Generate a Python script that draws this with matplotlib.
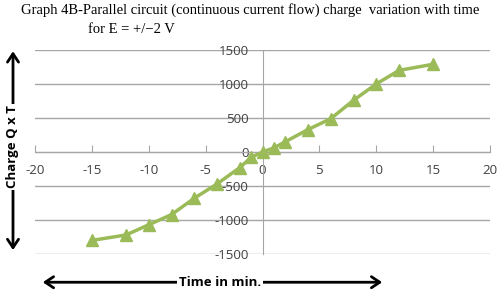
import numpy as np
import matplotlib
matplotlib.use('Agg')
import matplotlib.pyplot as plt

# time (min) and charge Q x T
time_min = [-15, -12, -10, -8, -6, -4, -2, -1, 0, 1, 2, 4, 6, 8, 10, 12, 15]
charge = [-1300, -1220, -1070, -920, -680, -470, -230, -80, 0, 60, 150, 330, 490, 760, 1000, 1200, 1290]

x_ticks = [-20, -15, -10, -5, 0, 5, 10, 15, 20]
y_ticks = [-1500, -1000, -500, 0, 500, 1000, 1500]

title_1 = "Graph 4B-Parallel circuit (continuous current flow) charge  variation with time"
title_2 = "for E = +/\u22122 V"

green = '#9BBB59'
grey = '#A6A6A6'
sans = 'Open Sans'

fig = plt.figure(figsize=(5, 2.94), dpi=100)
ax = fig.add_axes([0.07, 0.136, 0.91, 0.694])

ax.set_xlim(-20, 20)
ax.set_ylim(-1500, 1500)

# horizontal gridlines like the spreadsheet chart
for v in y_ticks:
    ax.axhline(v, color=grey, lw=1.0, zorder=1)

ax.plot(time_min, charge, color=green, lw=2.5, marker='^', markersize=8.5,
        markerfacecolor=green, markeredgecolor=green, zorder=3)

for s in ['top', 'right']:
    ax.spines[s].set_visible(False)
ax.spines['left'].set_position(('data', 0))
ax.spines['bottom'].set_position(('data', 0))
ax.spines['left'].set_color(grey)
ax.spines['bottom'].set_color(grey)

ax.set_xticks(x_ticks)
ax.set_yticks(y_ticks)
ax.set_xticklabels([str(v) for v in x_ticks])
ax.set_yticklabels([str(v) for v in y_ticks])
ax.tick_params(axis='x', length=5, direction='in', color=grey, pad=9,
               labelsize=9.5, labelcolor='#404040')
ax.tick_params(axis='y', length=0, pad=10, labelsize=9.5, labelcolor='#404040')
for lab in ax.get_xticklabels() + ax.get_yticklabels():
    lab.set_family(sans)

# title (serif, as in the original scan)
fig.text(0.5, 0.965, title_1, ha='center', va='center', family='Liberation Serif', fontsize=10.5)
fig.text(0.176, 0.9, title_2, ha='left', va='center', family='Liberation Serif', fontsize=10.5)

# double arrows with axis labels
fig.add_artist(matplotlib.patches.FancyArrowPatch((0.026, 0.14), (0.026, 0.835),
               transform=fig.transFigure, arrowstyle='<->,head_length=6,head_width=4',
               lw=2, color='black'))
fig.text(0.026, 0.5, 'Charge Q x T', rotation=90, ha='center', va='center', family=sans,
         fontsize=9.5, fontweight='bold',
         bbox=dict(facecolor='white', edgecolor='none', pad=1))

fig.add_artist(matplotlib.patches.FancyArrowPatch((0.08, 0.04), (0.77, 0.04),
               transform=fig.transFigure, arrowstyle='<->,head_length=6,head_width=4',
               lw=2, color='black'))
fig.text(0.44, 0.04, 'Time in min.', ha='center', va='center', family=sans,
         fontsize=9.5, fontweight='bold',
         bbox=dict(facecolor='white', edgecolor='none', pad=1))

fig.savefig('out.png', dpi=100)
